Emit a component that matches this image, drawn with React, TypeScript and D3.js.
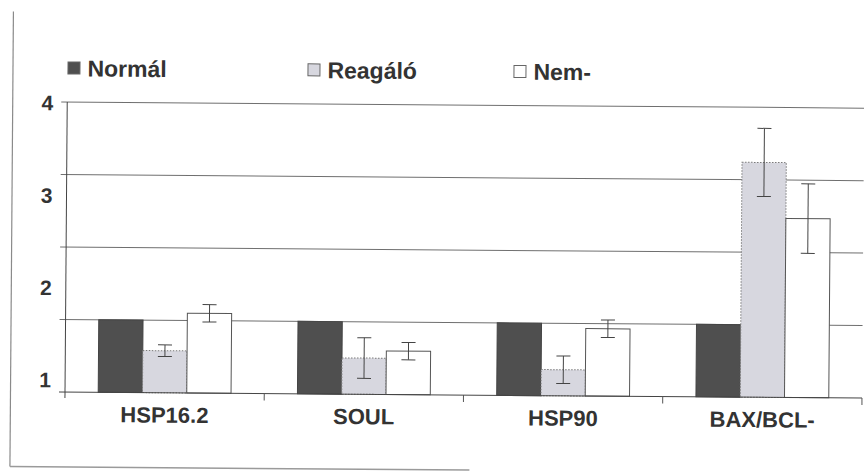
import { useEffect, useRef } from 'react';
import * as d3 from 'd3';

const categories = ['HSP16.2', 'SOUL', 'HSP90', 'BAX/BCL-'];
const seriesNames = ['Normál', 'Reagáló', 'Nem-'];
const normal = [1, 1, 1, 1];
const reagalo = [0.58, 0.5, 0.36, 3.24];
const reagaloErr = [0.08, 0.28, 0.19, 0.47];
const nem = [1.1, 0.6, 0.93, 2.47];
const nemErr = [0.12, 0.12, 0.12, 0.48];
const tickLabels = [1, 2, 3, 4];

const W = 864;
const H = 471;
const FONT = '"Liberation Sans", Arial, sans-serif';

export default function App() {
  const svgRef = useRef<SVGSVGElement | null>(null);

  useEffect(() => {
    if (!svgRef.current) return;
    const svg = d3.select(svgRef.current);
    svg.selectAll('*').remove();

    const margin = { left: 65, right: 2, top: 102, bottom: 79 };
    const x0 = margin.left;
    const x1 = W - margin.right;
    const yTop = margin.top;
    const yBot = H - margin.bottom;

    // scanned page is slightly tilted
    const root = svg.append('g').attr('transform', `rotate(0.44, ${x0}, ${yBot})`);

    // page frame
    root.append('line')
      .attr('x1', 10.5).attr('x2', 10.5).attr('y1', 12).attr('y2', 467)
      .attr('stroke', '#8a8a8a').attr('stroke-width', 1.2);
    root.append('line')
      .attr('x1', 10.5).attr('x2', 470).attr('y1', 467).attr('y2', 467)
      .attr('stroke', '#9a9a9a').attr('stroke-width', 1.5);

    const y = d3.scaleLinear().domain([0, 4]).range([yBot, yTop]);
    const labelY = d3.scaleLinear().domain([1, 4]).range([380, 103]);

    const x = d3.scaleBand().domain(categories).range([x0, x1]).padding(0);
    const bw = x.bandwidth();
    const xs = d3.scaleBand().domain(seriesNames).range([bw / 6, (bw * 5) / 6]).padding(0);

    // gridlines
    root.append('g')
      .selectAll('line')
      .data([1, 2, 3, 4])
      .enter()
      .append('line')
      .attr('x1', x0 - 6).attr('x2', x1)
      .attr('y1', d => y(d)).attr('y2', d => y(d))
      .attr('stroke', '#6f6f6f').attr('stroke-width', 1);

    // tick labels
    root.append('g')
      .selectAll('text')
      .data(tickLabels)
      .enter()
      .append('text')
      .attr('x', 51)
      .attr('y', d => labelY(d))
      .attr('dy', '0.36em')
      .attr('text-anchor', 'end')
      .attr('font-family', FONT)
      .attr('font-weight', 'bold')
      .attr('font-size', 21)
      .attr('fill', '#333')
      .text(d => d);

    const rows = [
      { name: seriesNames[0], values: normal, errs: null as number[] | null },
      { name: seriesNames[1], values: reagalo, errs: reagaloErr },
      { name: seriesNames[2], values: nem, errs: nemErr },
    ];
    const styles: Record<string, { fill: string; stroke: string; dash: string | null }> = {
      'Normál': { fill: '#4f4f4f', stroke: '#444', dash: null },
      'Reagáló': { fill: '#d7d7df', stroke: '#7a7a7a', dash: '1.5,1.5' },
      'Nem-': { fill: '#ffffff', stroke: '#555', dash: null },
    };

    rows.forEach(r => {
      const st = styles[r.name];
      const g = root.append('g');
      g.selectAll('rect')
        .data(categories)
        .enter()
        .append('rect')
        .attr('x', (c) => (x(c) as number) + (xs(r.name) as number))
        .attr('width', xs.bandwidth())
        .attr('y', (c, i) => y(r.values[i]))
        .attr('height', (c, i) => yBot - y(r.values[i]))
        .attr('fill', st.fill)
        .attr('stroke', st.stroke)
        .attr('stroke-width', 1)
        .attr('stroke-dasharray', st.dash);

      if (r.errs) {
        const errs = r.errs;
        const eb = root.append('g').attr('stroke', '#444').attr('stroke-width', 1);
        categories.forEach((c, i) => {
          const cx = (x(c) as number) + (xs(r.name) as number) + xs.bandwidth() / 2;
          const hi = y(r.values[i] + errs[i]);
          const lo = y(r.values[i] - errs[i]);
          eb.append('line').attr('x1', cx).attr('x2', cx).attr('y1', hi).attr('y2', lo);
          eb.append('line').attr('x1', cx - 7).attr('x2', cx + 7).attr('y1', hi).attr('y2', hi);
          eb.append('line').attr('x1', cx - 7).attr('x2', cx + 7).attr('y1', lo).attr('y2', lo);
        });
      }
    });

    // axes
    root.append('line')
      .attr('x1', x0).attr('x2', x0).attr('y1', yTop).attr('y2', yBot + 6)
      .attr('stroke', '#444').attr('stroke-width', 1);
    root.append('line')
      .attr('x1', x0 - 6).attr('x2', x1).attr('y1', yBot).attr('y2', yBot)
      .attr('stroke', '#444').attr('stroke-width', 1);
    const bounds = categories.map(c => x(c) as number).concat([x1]);
    root.append('g')
      .selectAll('line')
      .data(bounds.slice(1))
      .enter()
      .append('line')
      .attr('x1', d => d).attr('x2', d => d)
      .attr('y1', yBot).attr('y2', yBot + 7)
      .attr('stroke', '#555');

    // category labels
    root.append('g')
      .selectAll('text')
      .data(categories)
      .enter()
      .append('text')
      .attr('x', c => (x(c) as number) + bw / 2)
      .attr('y', 414)
      .attr('dy', '0.36em')
      .attr('text-anchor', 'middle')
      .attr('font-family', FONT)
      .attr('font-weight', 'bold')
      .attr('font-size', 22)
      .attr('fill', '#333')
      .text(c => c);

    // legend
    const legendX = [65, 305, 511];
    const ly = 68;
    seriesNames.forEach((name, i) => {
      const st = styles[name];
      const lg = root.append('g').attr('transform', `translate(${legendX[i]},${ly})`);
      lg.append('rect')
        .attr('x', 0.5).attr('y', -6).attr('width', 12).attr('height', 12)
        .attr('fill', st.fill)
        .attr('stroke', '#666')
        .attr('stroke-width', 1);
      lg.append('text')
        .attr('x', 20)
        .attr('y', 0)
        .attr('dy', '0.36em')
        .attr('font-family', FONT)
        .attr('font-weight', 'bold')
        .attr('font-size', 23)
        .attr('fill', '#333')
        .text(name);
    });
  }, []);

  return (
    <svg
      ref={svgRef}
      width={W}
      height={H}
      style={{ position: 'absolute', left: 0, top: 0, background: '#fff' }}
    />
  );
}
